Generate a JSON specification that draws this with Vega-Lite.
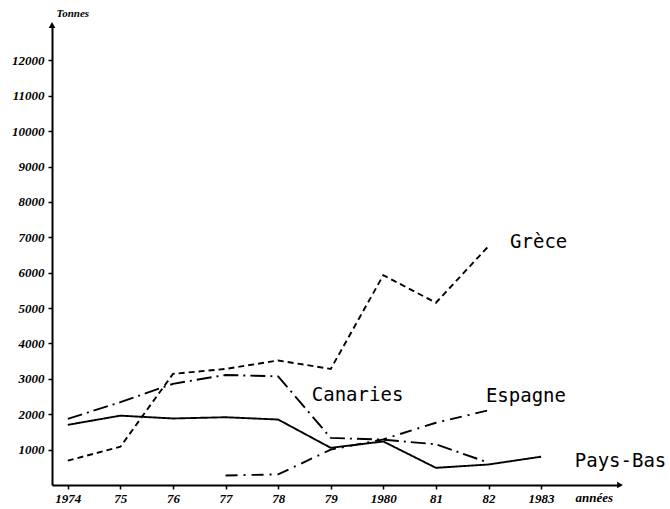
{
  "$schema": "https://vega.github.io/schema/vega-lite/v6.json",
  "width": 568,
  "height": 460,
  "autosize": {"type": "none"},
  "padding": {"left": 52, "top": 25, "right": 50, "bottom": 24},
  "background": "white",
  "config": {"view": {"stroke": null}},
  "datasets": {
    "series": [
      {"series": "Grèce", "year": 1974, "value": 690},
      {"series": "Grèce", "year": 1975, "value": 1080},
      {"series": "Grèce", "year": 1976, "value": 3140},
      {"series": "Grèce", "year": 1977, "value": 3280},
      {"series": "Grèce", "year": 1978, "value": 3520},
      {"series": "Grèce", "year": 1979, "value": 3280},
      {"series": "Grèce", "year": 1980, "value": 5930},
      {"series": "Grèce", "year": 1981, "value": 5150},
      {"series": "Grèce", "year": 1982, "value": 6750},
      {"series": "Canaries", "year": 1974, "value": 1870},
      {"series": "Canaries", "year": 1975, "value": 2340},
      {"series": "Canaries", "year": 1976, "value": 2860},
      {"series": "Canaries", "year": 1977, "value": 3110},
      {"series": "Canaries", "year": 1978, "value": 3070},
      {"series": "Canaries", "year": 1979, "value": 1330},
      {"series": "Canaries", "year": 1980, "value": 1280},
      {"series": "Canaries", "year": 1981, "value": 1150},
      {"series": "Canaries", "year": 1982, "value": 630},
      {"series": "Pays-Bas", "year": 1974, "value": 1700},
      {"series": "Pays-Bas", "year": 1975, "value": 1960},
      {"series": "Pays-Bas", "year": 1976, "value": 1880},
      {"series": "Pays-Bas", "year": 1977, "value": 1915},
      {"series": "Pays-Bas", "year": 1978, "value": 1850},
      {"series": "Pays-Bas", "year": 1979, "value": 1050},
      {"series": "Pays-Bas", "year": 1980, "value": 1230},
      {"series": "Pays-Bas", "year": 1981, "value": 485},
      {"series": "Pays-Bas", "year": 1982, "value": 580},
      {"series": "Pays-Bas", "year": 1983, "value": 800},
      {"series": "Espagne", "year": 1977, "value": 270},
      {"series": "Espagne", "year": 1978, "value": 300},
      {"series": "Espagne", "year": 1979, "value": 1000},
      {"series": "Espagne", "year": 1980, "value": 1290},
      {"series": "Espagne", "year": 1981, "value": 1760},
      {"series": "Espagne", "year": 1982, "value": 2110}
    ],
    "labels": [
      {"label": "Grèce", "year": 1982.41, "value": 6870},
      {"label": "Canaries", "year": 1978.64, "value": 2540},
      {"label": "Espagne", "year": 1981.95, "value": 2515},
      {"label": "Pays-Bas", "year": 1983.64, "value": 680}
    ],
    "arrows": [
      {"dir": "up", "year": 1973.7, "value": 13000},
      {"dir": "right", "year": 1984.5, "value": 0}
    ]
  },
  "encoding": {
    "x": {
      "field": "year", "type": "quantitative",
      "scale": {"domain": [1973.7, 1984.5], "nice": false, "zero": false},
      "axis": {
        "values": [1974, 1975, 1976, 1977, 1978, 1979, 1980, 1981, 1982, 1983],
        "labelExpr": "(datum.value == 1974 || datum.value == 1980 || datum.value == 1983) ? '' + datum.value : substring('' + datum.value, 2)",
        "grid": false,
        "domainColor": "black", "domainWidth": 2,
        "tickColor": "black", "tickSize": 4, "tickWidth": 1.5,
        "labelPadding": 3,
        "labelFont": "Liberation Serif", "labelFontStyle": "italic", "labelFontWeight": "bold",
        "labelFontSize": 13, "labelColor": "black",
        "title": "années",
        "titleX": 523, "titleY": 12, "titleAlign": "left", "titleBaseline": "middle",
        "titleFont": "Liberation Serif", "titleFontStyle": "italic", "titleFontWeight": "bold",
        "titleFontSize": 13, "titleColor": "black"
      }
    },
    "y": {
      "field": "value", "type": "quantitative",
      "scale": {"domain": [0, 13000], "nice": false},
      "axis": {
        "values": [1000, 2000, 3000, 4000, 5000, 6000, 7000, 8000, 9000, 10000, 11000, 12000],
        "format": "d",
        "grid": false,
        "domainColor": "black", "domainWidth": 2,
        "tickColor": "black", "tickSize": 4, "tickWidth": 1.5,
        "labelPadding": 4,
        "labelFont": "Liberation Serif", "labelFontStyle": "italic", "labelFontWeight": "bold",
        "labelFontSize": 13, "labelColor": "black",
        "title": "Tonnes",
        "titleAngle": 0, "titleX": 4, "titleY": -12, "titleAlign": "left", "titleBaseline": "middle",
        "titleFont": "Liberation Serif", "titleFontStyle": "italic", "titleFontWeight": "bold",
        "titleFontSize": 11, "titleColor": "black"
      }
    }
  },
  "layer": [
    {
      "data": {"name": "series"},
      "mark": {"type": "line", "color": "black", "strokeWidth": 1.9},
      "encoding": {
        "detail": {"field": "series"},
        "strokeDash": {
          "field": "series", "type": "nominal",
          "scale": {
            "domain": ["Grèce", "Canaries", "Espagne", "Pays-Bas"],
            "range": [[6, 4], [15, 5, 2, 5], [12, 6, 2, 6], [1, 0]]
          },
          "legend": null
        }
      }
    },
    {
      "data": {"name": "labels"},
      "mark": {"type": "text", "align": "left", "baseline": "middle", "font": "DejaVu Sans Mono", "fontSize": 19, "color": "black"},
      "encoding": {"text": {"field": "label"}}
    },
    {
      "data": {"name": "arrows"},
      "mark": {"type": "point", "filled": true, "color": "black", "size": 45, "opacity": 1, "clip": false},
      "encoding": {
        "shape": {
          "field": "dir", "type": "nominal",
          "scale": {"domain": ["up", "right"], "range": ["triangle-up", "triangle-right"]},
          "legend": null
        }
      }
    }
  ]
}
